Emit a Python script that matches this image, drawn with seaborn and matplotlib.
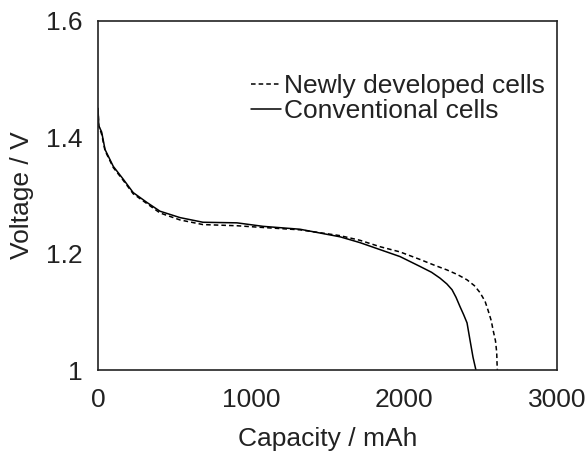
import pandas as pd
import numpy as np
import matplotlib.pyplot as plt
import seaborn as sns
from matplotlib.lines import Line2D

sns.set_style("white")
plt.rcParams['font.family'] = ['Liberation Sans', 'DejaVu Sans']

# discharge curves
new_cap = [0, 5, 24, 46, 100, 165, 230, 320, 405, 536, 686, 908, 1078, 1320, 1582,
           1712, 1843, 1974, 2105, 2200, 2281, 2350, 2412, 2460, 2497, 2530, 2549, 2570,
           2582, 2598, 2606, 2608, 2610]
new_v = [1.45, 1.42, 1.405, 1.377, 1.348, 1.326, 1.303, 1.286, 1.27, 1.258, 1.25, 1.248,
         1.245, 1.241, 1.231, 1.223, 1.212, 1.203, 1.19, 1.18, 1.172, 1.164, 1.155, 1.145,
         1.133, 1.118, 1.103, 1.085, 1.069, 1.050, 1.030, 1.012, 1.0]
conv_cap = [0, 5, 24, 46, 100, 165, 230, 320, 405, 536, 686, 908, 1078, 1320, 1582,
            1712, 1843, 1974, 2105, 2180, 2235, 2280, 2314, 2340, 2366, 2390, 2412,
            2431, 2451, 2470]
conv_v = [1.45, 1.42, 1.409, 1.379, 1.35, 1.328, 1.305, 1.288, 1.273, 1.262, 1.254, 1.253,
          1.247, 1.242, 1.229, 1.219, 1.207, 1.195, 1.178, 1.168, 1.158, 1.148, 1.138,
          1.125, 1.109, 1.095, 1.081, 1.052, 1.022, 1.0]
labels = ["Newly developed cells", "Conventional cells"]

df = pd.concat([
    pd.DataFrame({"cap": new_cap, "v": new_v, "cell": labels[0]}),
    pd.DataFrame({"cap": conv_cap, "v": conv_v, "cell": labels[1]}),
])

fig = plt.figure(figsize=(5.88, 4.66), dpi=100)
ax = fig.add_axes([98 / 588, 96 / 466, 459 / 588, 349 / 466])

sns.lineplot(data=df, x="cap", y="v", style="cell", sort=False, estimator=None,
             dashes={labels[0]: (3, 2), labels[1]: ""}, color="black", linewidth=1.1,
             legend=False, ax=ax)

ax.set_xlim(0, 3000)
ax.set_ylim(1.0, 1.6)
ax.set_xticks([0, 1000, 2000, 3000])
ax.set_yticks([1.0, 1.2, 1.4, 1.6])
ax.set_xticklabels(["0", "1000", "2000", "3000"])
ax.set_yticklabels(["1", "1.2", "1.4", "1.6"])
ax.tick_params(direction="in", length=6, width=1, labelsize=19, colors="#222222")
ax.tick_params(axis="x", pad=13)
ax.tick_params(axis="y", pad=11)
for s in ax.spines.values():
    s.set_color("#222222")
    s.set_linewidth(1.2)
ax.set_xlabel("Capacity / mAh", fontsize=19, labelpad=11, color="#222222")
ax.set_ylabel("Voltage / V", fontsize=19, labelpad=9, color="#222222")

handles = [Line2D([], [], color="black", lw=1.1, dashes=(3, 2)),
           Line2D([], [], color="black", lw=1.1)]
ax.legend(handles, labels, loc="upper left", bbox_to_anchor=(0.333, 0.848), frameon=False,
          fontsize=19, handlelength=1.15, handletextpad=0.12, labelspacing=0.05,
          borderaxespad=0, borderpad=0, labelcolor="#222222")

fig.savefig("out.png", dpi=100)
